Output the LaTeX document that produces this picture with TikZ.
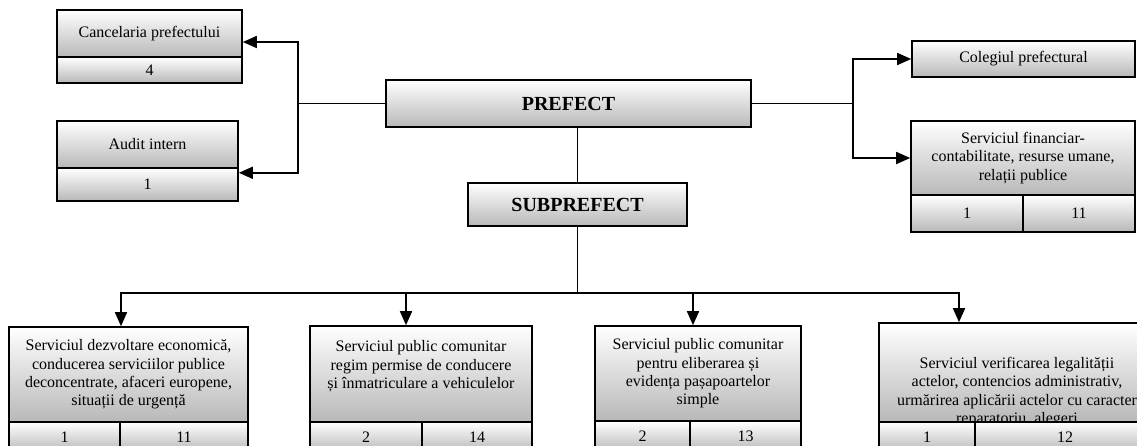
\documentclass[tikz,border=0pt]{standalone}
\definecolor{boxgray}{RGB}{184,184,184}
\usepackage{fontspec}
\setmainfont{Liberation Serif}
\usepackage{tikz}
\usetikzlibrary{arrows.meta}

\begin{document}
\begin{tikzpicture}[x=1pt,y=-1pt]

%
% Styles
%
\tikzstyle{cell}    = [draw,line width=1.6pt,top color=white,bottom color=boxgray,inner sep=0pt,align=center,font=\fontsize{16}{18.4}\selectfont]
\tikzstyle{headbox} = [cell,font=\bfseries\fontsize{20}{22}\selectfont]
\tikzstyle{link}    = [line width=1.6pt]
\tikzstyle{edge}    = [-{Triangle[length=14pt,width=12pt]},line width=1.6pt]

\clip (0,0) rectangle (1137,446);

% left column
\node[cell,minimum width=185,minimum height=47] (cancel)   at (149.5,33.5) {Cancelaria prefectului};
\node[cell,minimum width=185,minimum height=26] (cancelnr) at (149.5,70)   {4};
\node[cell,minimum width=181,minimum height=47] (audit)    at (147.5,144.5) {Audit intern};
\node[cell,minimum width=181,minimum height=33] (auditnr)  at (147.5,184.5) {1};

% top
\node[headbox,minimum width=365,minimum height=47] (prefect) at (568.5,103.5) {PREFECT};
\node[headbox,minimum width=219,minimum height=43] (subpref) at (577.5,204.5) {SUBPREFECT};

% right column
\node[cell,minimum width=223,minimum height=36] (coleg)   at (1023.5,59) {Colegiul prefectural};
\node[cell,minimum width=224,minimum height=74] (financ)  at (1023,158)
  {Serviciul financiar-\\contabilitate, resurse umane,\\rela\char"021B ii publice};
\node[cell,minimum width=112,minimum height=37] (financl) at (967,213.5)  {1};
\node[cell,minimum width=112,minimum height=37] (financr) at (1079,213.5) {11};

% bottom row
\node[cell,minimum width=239,minimum height=95] (dezv) at (128.5,374.5)
  {Serviciul dezvoltare economic\u{a},\\conducerea serviciilor publice\\deconcentrate, afaceri europene,\\situa\char"021B ii de urgen\char"021B\u{a}};
\node[cell,minimum width=111,minimum height=30] (dezvl) at (64.5,437) {1};
\node[cell,minimum width=128,minimum height=30] (dezvr) at (184,437)  {11};

\node[cell,minimum width=222,minimum height=96] (permis) at (421,374)
  {Serviciul public comunitar\\regim permise de conducere\\\char"0219 i \^{\i}nmatriculare a vehiculelor\\\mbox{}};
\node[cell,minimum width=112,minimum height=30] (permisl) at (366,437) {2};
\node[cell,minimum width=110,minimum height=30] (permisr) at (477,437) {14};

\node[cell,minimum width=206,minimum height=95] (pasap) at (698,373.5)
  {Serviciul public comunitar\\pentru eliberarea \char"0219 i\\eviden\char"021B a pa\char"0219 apoartelor\\simple};
\node[cell,minimum width=95,minimum height=30]  (pasapl) at (642.5,436.5) {2};
\node[cell,minimum width=111,minimum height=30] (pasapr) at (745.5,436.5) {13};

\node[cell,minimum width=276,minimum height=99] (verif) at (1017,372.5) {};
\node[align=center,inner sep=0pt,font=\fontsize{16}{18.4}\selectfont] (veriftxt) at (1017,392)
  {Serviciul verificarea legalit\u{a}\char"021B ii\\actelor, contencios administrativ,\\urm\u{a}rirea aplic\u{a}rii actelor cu caracter\\reparatoriu, alegeri};
\node[cell,minimum width=96,minimum height=30]  (verifl) at (927,437)  {1};
\node[cell,minimum width=180,minimum height=30] (verifr) at (1065,437) {12};

% junctions
\coordinate (ljoin) at (298,103.5);
\coordinate (rjoin) at (853,103.5);
\coordinate (bjoin) at (577.5,293);

\draw[link] (prefect.west) -- (ljoin);
\draw[edge] (ljoin) |- ([yshift=-8.5pt]cancel.east);
\draw[edge] (ljoin) |- ([yshift=-4pt]audit.south east);

\draw[link] (prefect.east) -- (rjoin);
\draw[edge] (rjoin) |- (coleg.west);
\draw[edge] (rjoin) |- (financ.west);

\draw[link] (prefect.south -| subpref.north) -- (subpref.north);
\draw[link] (subpref.south) -- (bjoin);
\draw[edge] (bjoin) -| ([xshift=-7.5pt]dezv.north);
\draw[edge] (bjoin) -| ([xshift=-15pt]permis.north);
\draw[edge] (bjoin) -| ([xshift=-5pt]pasap.north);
\draw[edge] (bjoin) -| ([xshift=-58pt]verif.north);

\end{tikzpicture}
\end{document}
